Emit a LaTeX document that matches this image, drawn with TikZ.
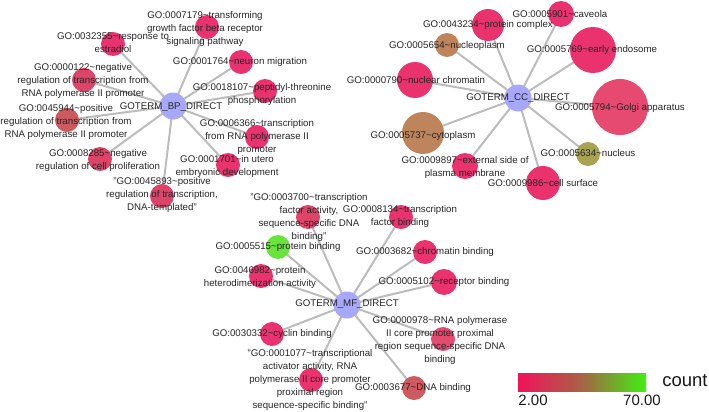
\documentclass[tikz,border=0pt]{standalone}
\usepackage{fontspec}
\setmainfont{Liberation Sans}
\usetikzlibrary{backgrounds}

\definecolor{hubblue}{RGB}{168,168,250}
\definecolor{edgegray}{RGB}{188,188,188}
\definecolor{termpink}{RGB}{234,50,110}
\definecolor{termrose}{RGB}{230,74,112}
\definecolor{termred}{RGB}{220,68,104}
\definecolor{termbrick}{RGB}{204,90,95}
\definecolor{termbrown}{RGB}{190,132,92}
\definecolor{termolive}{RGB}{168,163,82}
\definecolor{termgreen}{RGB}{105,228,60}
\definecolor{barpink}{RGB}{242,18,92}
\definecolor{barbrown}{RGB}{165,100,68}
\definecolor{bargreen}{RGB}{64,240,16}

% the path covers 25bp--75bp of the shading
\pgfdeclarehorizontalshading{countbar}{100bp}{%
  color(0bp)=(barpink); color(25bp)=(barpink); color(50bp)=(barbrown);
  color(75bp)=(bargreen); color(100bp)=(bargreen)}

\newcommand{\goid}[1]{GO:#1\textasciitilde}

\begin{document}
\begin{tikzpicture}[
    x=1pt, y=-1pt,
    edge/.style={draw=edgegray, line width=2pt},
    hub/.style={circle, fill=hubblue, inner sep=0pt, minimum size=27pt},
    term/.style={circle, fill=#1, inner sep=0pt, minimum size=24pt},
    term/.default=termpink,
    lbl/.style={font=\fontsize{9.7}{13}\selectfont, align=center,
                inner sep=0pt, text=black!85},
]
    \useasboundingbox (0,0) rectangle (709,412);

    % =============================================================
    % Biological process
    % =============================================================
    \node[hub] (bp) at (173,106) {};
    \node[term] (tgfb) at (207,27) {};
    \node[term] (estradiol) at (113,44) {};
    \node[term] (neuron) at (241,62) {};
    \node[term] (threonine) at (265,91) {};
    \node[term=termred] (negtx) at (84,80) {};
    \node[term=termbrick] (postx) at (67,120) {};
    \node[term] (pol2tx) at (257,137) {};
    \node[term=termred] (prolif) at (100,159) {};
    \node[term] (utero) at (228,165) {};
    \node[term=termred] (dnatx) at (162,196) {};

    % =============================================================
    % Cellular component
    % =============================================================
    \node[hub] (cc) at (518,98) {};
    \node[term, minimum size=26pt] (caveola) at (561,14) {};
    \node[term, minimum size=32pt] (complex) at (488,25) {};
    \node[term=termbrown] (nucleoplasm) at (447,45) {};
    \node[term, minimum size=46pt] (endosome) at (593,50) {};
    \node[term, minimum size=36pt] (chromatin) at (415,80) {};
    \node[term=termrose, minimum size=56pt] (golgi) at (620,107) {};
    \node[term=termbrown, minimum size=42pt] (cytoplasm) at (423,133) {};
    \node[term, minimum size=26pt] (extside) at (465,166) {};
    \node[term=termolive] (nucleus) at (588,154) {};
    \node[term, minimum size=34pt] (surface) at (543,183) {};

    % =============================================================
    % Molecular function
    % =============================================================
    \node[hub] (mf) at (347,305) {};
    \node[term=termred] (tfactivity) at (308,217) {};
    \node[term] (tfbinding) at (401,217) {};
    \node[term=termgreen] (protbind) at (278,247) {};
    \node[term] (chrombind) at (425,252) {};
    \node[term] (heterodim) at (261,276) {};
    \node[term, minimum size=26pt] (recbind) at (444,282) {};
    \node[term=termrose] (pol2prox) at (443,339) {};
    \node[term] (cyclin) at (272,334) {};
    \node[term] (activator) at (311,380) {};
    \node[term=termbrick] (dnabind) at (414,388) {};

    % the edges sit under the circles
    \begin{pgfonlayer}{background}
        \draw[edge] (bp.center) -- (tgfb.center) (bp.center) -- (estradiol.center)
            (bp.center) -- (neuron.center) (bp.center) -- (threonine.center)
            (bp.center) -- (negtx.center) (bp.center) -- (postx.center)
            (bp.center) -- (pol2tx.center) (bp.center) -- (prolif.center)
            (bp.center) -- (utero.center) (bp.center) -- (dnatx.center);
        \draw[edge] (cc.center) -- (caveola.center) (cc.center) -- (complex.center)
            (cc.center) -- (nucleoplasm.center) (cc.center) -- (endosome.center)
            (cc.center) -- (chromatin.center) (cc.center) -- (golgi.center)
            (cc.center) -- (cytoplasm.center) (cc.center) -- (extside.center)
            (cc.center) -- (nucleus.center) (cc.center) -- (surface.center);
        \draw[edge] (mf.center) -- (tfactivity.center) (mf.center) -- (tfbinding.center)
            (mf.center) -- (protbind.center) (mf.center) -- (chrombind.center)
            (mf.center) -- (heterodim.center) (mf.center) -- (recbind.center)
            (mf.center) -- (pol2prox.center) (mf.center) -- (cyclin.center)
            (mf.center) -- (activator.center) (mf.center) -- (dnabind.center);
    \end{pgfonlayer}

    % labels go over everything
    \node[lbl] (bpl) at (171,107) {GOTERM\_BP\_DIRECT};
    \node[lbl] (tgfbl) at (205,29)
        {\goid{0007179}transforming\\growth factor beta receptor\\signaling pathway};
    \node[lbl] (estradioll) at (113,43) {\goid{0032355}response to\\estradiol};
    \node[lbl] (neuronl) at (240,62) {\goid{0001764}neuron migration};
    \node[lbl] (threoninel) at (262,94) {\goid{0018107}peptidyl-threonine\\phosphorylation};
    \node[lbl] (negtxl) at (83,81)
        {\goid{0000122}negative\\regulation of transcription from\\RNA polymerase II promoter};
    \node[lbl] (postxl) at (66,122)
        {\goid{0045944}positive\\regulation of transcription from\\RNA polymerase II promoter};
    \node[lbl] (pol2txl) at (257,137)
        {\goid{0006366}transcription\\from RNA polymerase II\\promoter};
    \node[lbl] (prolifl) at (98,160) {\goid{0008285}negative\\regulation of cell proliferation};
    \node[lbl] (uterol) at (227,166) {\goid{0001701}in utero\\embryonic development};
    \node[lbl] (dnatxl) at (162,195)
        {"\goid{0045893}positive\\regulation of transcription,\\DNA-templated"};

    \node[lbl] (ccl) at (518,98) {GOTERM\_CC\_DIRECT};
    \node[lbl] (caveolal) at (560,14) {\goid{0005901}caveola};
    \node[lbl] (complexl) at (488,25) {\goid{0043234}protein complex};
    \node[lbl] (nucleoplasml) at (447,46) {\goid{0005654}nucleoplasm};
    \node[lbl] (endosomel) at (592,50) {\goid{0005769}early endosome};
    \node[lbl] (chromatinl) at (416,80) {\goid{0000790}nuclear chromatin};
    \node[lbl] (golgil) at (620,108) {\goid{0005794}Golgi apparatus};
    \node[lbl] (cytoplasml) at (423,136) {\goid{0005737}cytoplasm};
    \node[lbl] (extsidel) at (465,167) {\goid{0009897}external side of\\plasma membrane};
    \node[lbl] (nucleusl) at (588,153) {\goid{0005634}nucleus};
    \node[lbl] (surfacel) at (543,183) {\goid{0009986}cell surface};

    \node[lbl] (mfl) at (347,304) {GOTERM\_MF\_DIRECT};
    \node[lbl] (tfactivityl) at (309,217)
        {"\goid{0003700}transcription\\factor activity,\\sequence-specific DNA\\binding"};
    \node[lbl] (tfbindingl) at (400,216) {\goid{0008134}transcription\\factor binding};
    \node[lbl] (protbindl) at (278,247) {\goid{0005515}protein binding};
    \node[lbl] (chrombindl) at (425,252) {\goid{0003682}chromatin binding};
    \node[lbl] (heterodiml) at (260,277) {\goid{0046982}protein\\heterodimerization activity};
    \node[lbl] (recbindl) at (444,282) {\goid{0005102}receptor binding};
    \node[lbl] (pol2proxl) at (440,340)
        {\goid{0000978}RNA polymerase\\II core promoter proximal\\region sequence-specific DNA\\binding};
    \node[lbl] (cyclinl) at (272,334) {\goid{0030332}cyclin binding};
    \node[lbl] (activatorl) at (310,380)
        {"\goid{0001077}transcriptional\\activator activity, RNA\\polymerase II core promoter\\proximal region\\sequence-specific binding"};
    \node[lbl] (dnabindl) at (413,388) {\goid{0003677}DNA binding};

    % =============================================================
    % Colour key
    % =============================================================
    \node[shading=countbar, inner sep=0pt, minimum width=128pt, minimum height=18pt,
          anchor=north west] (bar) at (518,373) {};
    \node[font=\fontsize{18.5}{20}\selectfont, inner sep=0pt, text=black!90] (countl)
        at (685,381) {count};
    \node[font=\fontsize{15}{16}\selectfont, inner sep=0pt, text=black!90] (minl)
        at (533,400) {2.00};
    \node[font=\fontsize{15}{16}\selectfont, inner sep=0pt, text=black!90] (maxl)
        at (642,400) {70.00};

\end{tikzpicture}
\end{document}
